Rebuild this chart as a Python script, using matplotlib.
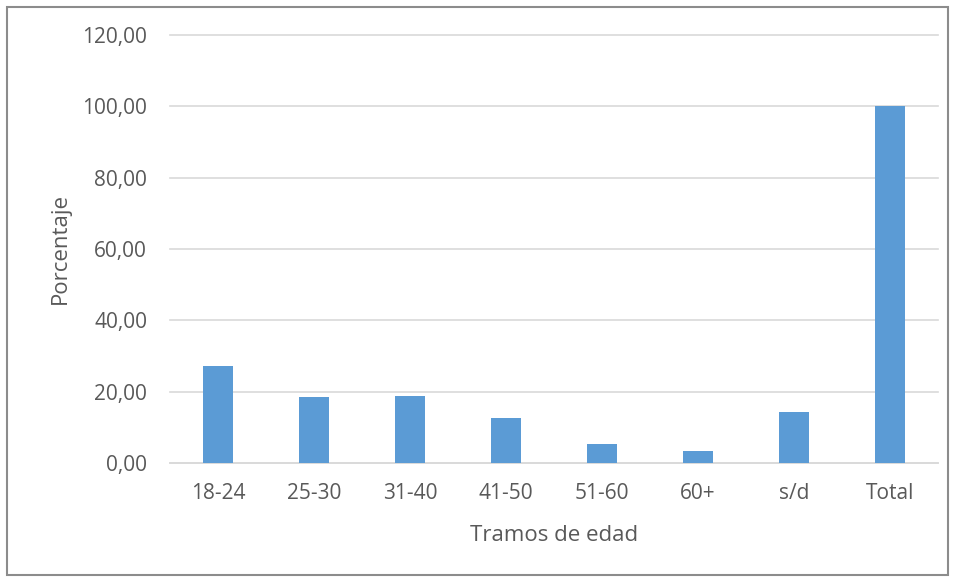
import matplotlib.pyplot as plt
from matplotlib.patches import Rectangle

plt.rcParams['font.family'] = ['Open Sans', 'DejaVu Sans']

# Porcentaje por tramo de edad
tramos = ['18-24', '25-30', '31-40', '41-50', '51-60', '60+', 's/d', 'Total']
porcentaje = [27.2, 18.4, 18.8, 12.5, 5.3, 3.3, 14.2, 100.0]
yticks = [0, 20, 40, 60, 80, 100, 120]

gris = '#595959'

fig = plt.figure(figsize=(9.59, 5.82), dpi=100)
ax = fig.add_axes([170 / 959, 1 - 463 / 582, 768 / 959, 428 / 582])

x = range(len(tramos))
ax.bar(x, porcentaje, width=0.31, color='#5B9BD5', zorder=3)

ax.set_xlim(-0.5, len(tramos) - 0.5)
ax.set_ylim(0, 120)
ax.set_yticks(yticks)
ax.set_yticklabels([f'{v:.2f}'.replace('.', ',') for v in yticks])
ax.set_xticks(list(x))
ax.set_xticklabels(tramos)

ax.grid(axis='y', color='#D9D9D9', linewidth=1.2, zorder=0)
for gl in ax.get_ygridlines():
    gl.set_clip_on(False)
for s in ['top', 'right', 'left']:
    ax.spines[s].set_visible(False)
ax.spines['bottom'].set_color('#D9D9D9')
ax.spines['bottom'].set_linewidth(1.2)
ax.tick_params(length=0, labelsize=15, labelcolor=gris)
ax.tick_params(axis='y', pad=16.5)
ax.tick_params(axis='x', pad=14.5)

ax.set_xlabel('Tramos de edad', fontsize=16, color=gris, labelpad=15)
ax.set_ylabel('Porcentaje', fontsize=16, color=gris, labelpad=8)

# marco exterior
fig.patches.append(Rectangle((7 / 959, 7 / 582), 941 / 959, 568 / 582,
                             transform=fig.transFigure, fill=False,
                             edgecolor='#8C8C8C', linewidth=1.5))

fig.savefig('out.png', dpi=100)
